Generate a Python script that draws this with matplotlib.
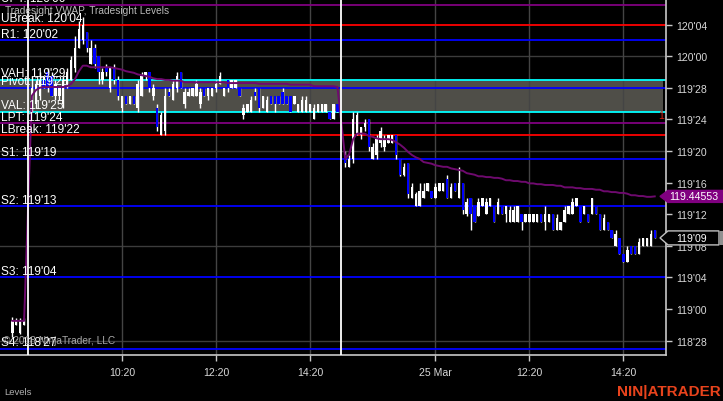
import matplotlib
matplotlib.use("Agg")
import matplotlib.pyplot as plt
from matplotlib.patches import Polygon, Rectangle
import numpy as np

# ---------------- data (prices in 32nds above 119'00) ----------------
BASE = 119.0
pre_open  = [-3, -2, -3, -2]
pre_high  = [-1, -1.2, -1.2, -1.2]
pre_low   = [-3.5, -2, -3.2, -2]
pre_close = [-1.5, -1.5, -1.5, -1.5]

d1_open  = [26, 26, 27, 29, 30, 29.5, 27, 27, 26, 28.5, 29, 30.5, 33, 34, 35, 31, 33, 32, 29, 30.5,
            28, 30.5, 29, 25.5, 27, 26, 27, 25.5, 27, 29.5, 30, 27, 25.5, 22, 22.5, 27.5, 26.5, 28, 30, 26,
            27, 27, 27, 26, 28, 27, 27, 28, 28.5, 27, 29, 28, 28, 28, 24.5, 25, 25, 27.5, 28, 25.5,
            25, 27, 27, 27, 27.5, 27, 27, 26, 25, 25, 25, 25, 24, 25, 25, 25, 25, 24, 26]
d1_high  = [29.5, 29, 30, 29.5, 30.5, 30, 29, 28, 29.5, 30.5, 32, 34.5, 36.5, 37, 35, 34, 33.5, 32, 30.5, 31,
            30.5, 31, 29.5, 27, 27, 27, 27, 29, 30, 30, 30, 28.5, 26, 25, 28, 28, 29, 30, 30, 28,
            28, 28, 29, 28, 28, 28, 28, 29, 30, 28, 29, 29, 29, 28, 26, 26, 27, 28, 28, 27,
            27, 27, 27, 27, 28, 27, 27, 27, 26, 27, 27, 26, 26, 26, 26, 26, 25, 26, 26]
d1_low   = [25, 25.5, 26.5, 28, 27.5, 27, 26.5, 26.5, 25.5, 28, 29, 30, 33, 33.5, 32.5, 31, 30.5, 28.5, 28.5, 29.5,
            27.5, 28.5, 26.5, 25, 26, 26, 26, 25, 27, 29, 27.5, 26.5, 22.5, 22, 22, 27, 26.5, 27.5, 28, 25.5,
            27, 27, 27, 25.5, 27, 26.5, 27, 27.5, 28.5, 27, 27.5, 28, 28, 27, 24, 25, 25, 26.5, 25, 25.5,
            25, 26, 25, 26, 26, 26, 25, 26, 25, 25, 25, 25, 24, 25, 25, 25, 24, 24, 25]
d1_close = [28, 28.5, 29, 28, 28, 27, 28.5, 28, 29, 30, 31.5, 33, 35.5, 36, 33, 33, 31, 30, 30, 30,
            30.5, 29, 27, 27, 26, 27, 26, 28.5, 29.5, 30, 28, 28, 23, 24.5, 27, 27, 28.5, 29.5, 28, 27.5,
            27.5, 28, 28.5, 27.5, 27, 28, 28, 28.5, 29.5, 28, 28, 29, 29, 27, 25.5, 26, 26.5, 27, 25.5, 27,
            26.5, 26, 26, 26, 26, 26, 25, 27, 26, 26.5, 26.5, 26, 25.5, 26, 26, 26, 24, 26, 25]

d2_open  = [19.5, 18, 19, 22, 22, 23, 24, 19, 19.5, 21, 20.5, 21, 21, 22, 19, 17, 18.5, 14, 13, 13,
            14, 15, 15, 14, 15, 15, 16.5, 14, 16, 14, 16, 12, 14, 13, 11.8, 13, 12, 13, 13, 12,
            13, 12, 11, 11, 11, 12, 11, 11, 11, 11, 12, 11, 11, 12, 10, 10, 11, 12, 12, 13,
            13, 12, 12, 12, 13, 12, 10, 11, 10, 8, 9, 7, 6, 8, 8, 7, 8, 8, 8, 10]
d2_high  = [20, 19.5, 25, 25, 23, 24, 24, 21, 22, 23, 22, 22, 22, 22, 19, 18.5, 18.5, 16, 14.8, 16,
            16, 16, 15, 16, 16, 16, 17, 16, 16, 18, 16, 14, 14, 13, 14, 14, 14, 14, 13, 14,
            13, 13, 13, 13, 13, 12, 12, 12, 12, 12, 12, 13, 12, 12, 12, 11, 13, 13, 14, 14,
            13, 13, 12, 14, 13, 12, 12, 11, 10, 10, 9, 7, 8, 8, 8, 9, 9, 9, 10, 10]
d2_low   = [18, 18, 18.5, 22, 21.5, 22.5, 20, 19, 19, 20.5, 20, 21, 21, 19, 16.8, 16.8, 14, 14, 13, 13,
            14, 15, 14, 14, 15, 15, 14, 14, 15, 14, 12, 11.8, 10, 11, 11.8, 13, 12, 13, 11, 12,
            12, 11, 11, 11, 11, 10, 11, 11, 11, 11, 11, 10, 11, 10, 10, 10, 11, 12, 12, 13,
            11, 12, 11, 12, 12, 10, 10, 10, 9, 8, 7, 6, 6, 7, 7, 7, 8, 8, 8, 9]
d2_close = [18.5, 19, 24, 24.5, 23, 23.5, 20.5, 20.5, 21.5, 22.5, 21.5, 22, 22, 19.5, 17, 18, 14.5, 15.5, 14.5, 15,
            15, 16, 14, 15.5, 16, 16, 14, 15.5, 15, 16, 12.5, 13.5, 12, 11, 13.5, 14, 13.5, 14, 11, 13.5,
            12, 13, 12.5, 12.5, 13, 11, 12, 12, 12, 12, 11, 12, 12, 10, 11.5, 11, 12.5, 13, 13.5, 14,
            11, 13, 11, 14, 12, 10, 11.5, 10, 9, 9.5, 7, 6, 7.5, 7, 7, 8.5, 9, 9, 9.5, 9]

vwap_pre = [-1.5, -1.5, -1.5, -1.5]
vwap_d1 = [27.0, 27.7, 28.0, 28.1, 28.1, 28.1, 28.1, 28.1, 28.1, 28.2, 28.5, 29.1, 30.1, 30.8, 30.8, 30.6,
           30.6, 30.6, 30.6, 30.6, 30.6, 30.5, 30.4, 30.3, 30.1, 30.0, 29.9, 29.7, 29.6, 29.5, 29.4, 29.2,
           29.1, 29.1, 29.0, 29.0, 28.9, 28.9, 28.9, 28.7, 28.7, 28.7, 28.7, 28.7, 28.7, 28.7, 28.7, 28.7,
           28.7, 28.7, 28.6, 28.6, 28.6, 28.6, 28.6, 28.6, 28.6, 28.6, 28.5, 28.5, 28.5, 28.5, 28.5, 28.5,
           28.5, 28.5, 28.4, 28.4, 28.4, 28.4, 28.4, 28.4, 28.2, 28.2, 28.2, 28.2, 28.2, 28.2, 28.1]
vwap_d2 = [19.0, 19.6, 21.5, 22.2, 22.2, 22.2, 21.9, 21.8, 21.6, 21.5, 21.5, 21.5, 21.4, 21.1, 20.8, 20.4,
           19.9, 19.5, 19.2, 19.0, 18.6, 18.5, 18.4, 18.2, 18.1, 18.0, 18.0, 17.8, 17.7, 17.6, 17.5, 17.2,
           17.1, 17.0, 16.8, 16.8, 16.7, 16.7, 16.6, 16.6, 16.5, 16.3, 16.3, 16.2, 16.2, 16.1, 16.1, 15.9,
           15.9, 15.8, 15.8, 15.7, 15.7, 15.7, 15.6, 15.6, 15.4, 15.4, 15.4, 15.3, 15.3, 15.2, 15.2, 15.2,
           15.1, 15.1, 14.9, 14.9, 14.8, 14.8, 14.7, 14.7, 14.6, 14.4, 14.4, 14.3, 14.3, 14.2, 14.2, 14.257]

level_names  = ["UPT", "UBreak", "R1", "VAH", "Pivot", "VAL", "LPT", "LBreak", "S1", "S2", "S3", "S4"]
level_labels = ["120'06", "120'04", "120'02", "119'29", "119'28", "119'25", "119'24", "119'22",
                "119'19", "119'13", "119'04", "118'27"]
level_ticks  = [38.5, 36, 34, 29, 28, 25, 23.5, 22, 19, 13, 4, -5]
level_colors = ["#800080", "#ff0000", "#0000ff", "#00ffff", "#0000ff", "#00ffff", "#800080", "#ff0000",
                "#0000ff", "#0000ff", "#0000ff", "#0000ff"]

xtick_slots = [24, 48, 72, 104, 128, 152]
xtick_labels = ["10:20", "12:20", "14:20", "25 Mar", "12:20", "14:20"]
hgrid_ticks = [32, 20, 8, -4]
session_breaks = [0, 80]

# ---------------- assemble ----------------
slots = np.array(list(range(-4, 0)) + list(range(1, 80)) + list(range(81, 161)), dtype=float)
O = np.array(pre_open + d1_open + d2_open, dtype=float)
H = np.array(pre_high + d1_high + d2_high, dtype=float)
L = np.array(pre_low + d1_low + d2_low, dtype=float)
C = np.array(pre_close + d1_close + d2_close, dtype=float)
V = np.array(vwap_pre + vwap_d1 + vwap_d2, dtype=float)

def p(t):
    return BASE + np.asarray(t) / 32.0

def fmt32(price):
    whole = int(np.floor(price + 1e-9))
    frac = int(round((price - whole) * 32))
    if frac == 32:
        whole += 1; frac = 0
    return f"{whole}'{frac:02d}"

plt.rcParams['font.family'] = ['Liberation Sans', 'DejaVu Sans']

W, Hh = 723, 402
fig = plt.figure(figsize=(W / 100, Hh / 100), dpi=100, facecolor="black")
ax = fig.add_axes([0, (Hh - 356) / Hh, 666 / W, 356 / Hh], facecolor="black")

xlim = (-7.15, 162.88)
ylim = (p(-5.82), p(39.24))
ax.set_xlim(*xlim)
ax.set_ylim(*ylim)

# value area box
ax.axhspan(p(25), p(29), xmin=0, xmax=663 / 666, color="#4f4e48", zorder=1, lw=0)

# grid
for t in hgrid_ticks:
    ax.axhline(p(t), color="#3c3c3c", lw=1, zorder=1.5)
for s in xtick_slots:
    ax.axvline(s, color="#444444", lw=1, zorder=1.5)

# levels
for name, lab, t, col in zip(level_names, level_labels, level_ticks, level_colors):
    ax.axhline(p(t), color=col, lw=1.3, zorder=2)
    ax.text(-7.0, p(t) + 0.002, f"{name}: {lab}", color="white", fontsize=8.6,
            va="bottom", ha="left", zorder=6)

# candles
up = C >= O
ax.vlines(slots, p(L), p(H), color="white", lw=1.0, zorder=3)
body_lo = np.minimum(O, C)
body_h = np.maximum(np.abs(C - O), 0.15) / 32.0
ax.bar(slots, body_h, bottom=p(body_lo), width=0.62,
       color=np.where(up, "white", "#0000ff"), lw=0, zorder=4)

# vwap
ax.plot(slots, p(V), color="#6e0a6e", lw=1.4, zorder=4.5)

# session breaks
for s in session_breaks:
    ax.axvline(s, color="white", lw=1.3, zorder=5)

# axes styling
for sp in ["left", "top"]:
    ax.spines[sp].set_visible(False)
for sp in ["right", "bottom"]:
    ax.spines[sp].set_color("#c8c8c8")
    ax.spines[sp].set_linewidth(1.2)
ax.yaxis.tick_right()
yt = np.arange(-4, 37, 4)
ax.set_yticks(p(yt))
ax.set_yticklabels([fmt32(v) for v in p(yt)])
ax.set_xticks(xtick_slots)
ax.set_xticklabels(xtick_labels)
ax.tick_params(axis="both", colors="#c8c8c8", labelcolor="#d8d8d8", labelsize=7.6,
               length=4, width=1)
ax.tick_params(axis="y", pad=3)
ax.tick_params(axis="x", pad=5)

# texts
ax.text(-5.9, p(37.9), "Tradesight VWAP, Tradesight Levels", color="#b8b8b8", fontsize=7.3,
        va="center", ha="left", zorder=6)
ax.text(-6.5, p(-4.5), "\u00a9 2018 NinjaTrader, LLC", color="#a8a8a8", fontsize=7.3,
        va="bottom", ha="left", zorder=6)
fig.text(4 / W, 1 - 393 / Hh, "Levels", color="#b0b0b0", fontsize=6.8, va="center", ha="left")
fig.text(721 / W, 1 - 392 / Hh, "NIN|ATRADER", color="#e8431c", fontsize=11, fontweight="bold",
         va="center", ha="right")
ax.text(161.6, p(24.6), "1", color="#e02010", fontsize=7.5, va="center", ha="center", zorder=7)

# right-side price markers
fig.canvas.draw()
def ypx(price):
    return ax.transData.transform((0, price))[1]
def add_box(ycen, h, fc, ec, text, tc, x_tip=660, x0=668, x1=723):
    pts = [(x_tip, ycen), (x0, ycen + h / 2), (x1, ycen + h / 2), (x1, ycen - h / 2), (x0, ycen - h / 2)]
    pts = [(x / W, y / Hh) for x, y in pts]
    fig.patches.append(Polygon(pts, closed=True, transform=fig.transFigure, fc=fc, ec=ec, lw=1,
                               zorder=10))
    fig.text((x0 + x1 - 4) / 2 / W, ycen / Hh, text, color=tc, fontsize=7.6, ha="center",
             va="center", zorder=11)

vw_last = p(V[-1])
add_box(ypx(vw_last), 12, "#800080", "#800080", f"{vw_last:.5f}", "white")
cl_last = p(C[-1])
add_box(ypx(cl_last), 14, "black", "#c0c0c0", fmt32(cl_last), "white", x1=719)
fig.patches.append(Rectangle((720 / W, (ypx(cl_last) - 7) / Hh), 3 / W, 14 / Hh,
                             transform=fig.transFigure, fc="#909090", ec="none", zorder=10))

fig.savefig("out.png", dpi=100, facecolor="black")
